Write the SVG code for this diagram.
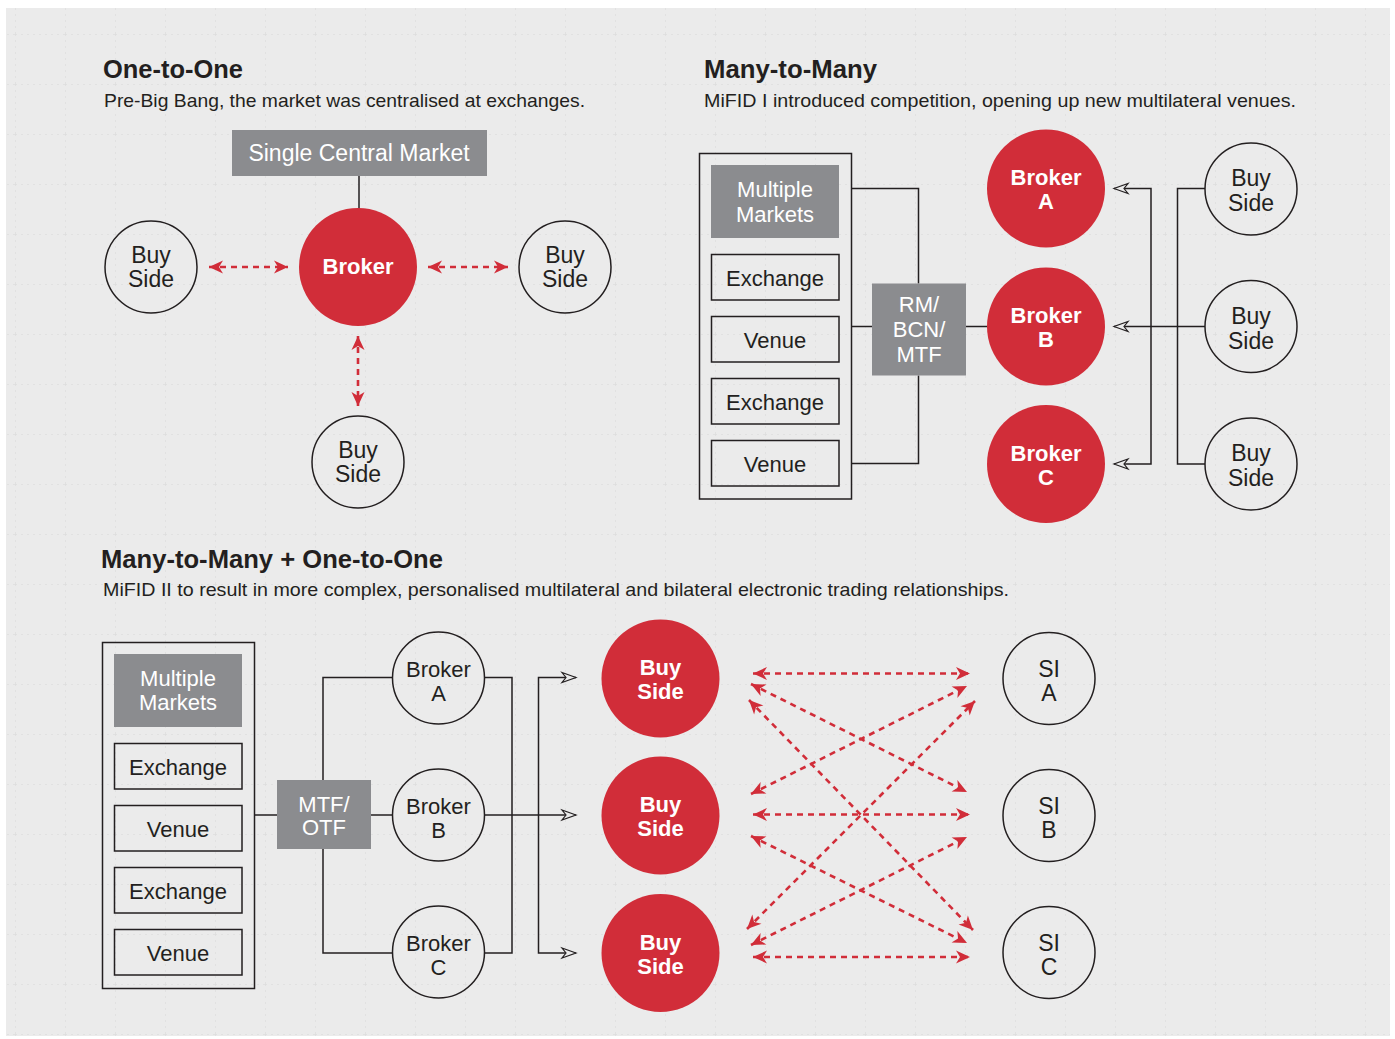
<svg xmlns="http://www.w3.org/2000/svg" width="1395" height="1039" viewBox="0 0 1395 1039">
<style>
text{font-family:"Liberation Sans",Arial,sans-serif;fill:#231f20}
.t{font-size:25px;font-weight:bold}
.s{font-size:19px}
.lbl{font-size:22px;text-anchor:middle}
.c{font-size:23px}
.w{fill:#fff}
.b{font-weight:bold}
.red{fill:#d12d39}
.gbox{fill:#8b8c8f}
.wc{fill:none;stroke:#231f20;stroke-width:1.5}
.box{fill:none;stroke:#231f20;stroke-width:1.5}
.ln{fill:none;stroke:#231f20;stroke-width:1.5}
.arw{fill:none;stroke:#231f20;stroke-width:1.5;marker-end:url(#oa)}
.arw2{fill:none;stroke:#231f20;stroke-width:1.5;marker-start:url(#oa);marker-end:url(#oa)}
.rd{fill:none;stroke:#d12d39;stroke-width:2.6;stroke-dasharray:6 5;marker-start:url(#ra);marker-end:url(#ra)}
</style>
<defs>
<marker id="ra" markerUnits="userSpaceOnUse" viewBox="-16 -8 17 16" refX="0" refY="0" markerWidth="17" markerHeight="16" orient="auto-start-reverse">
<path d="M0,0 L-14,-6.5 L-10,0 L-14,6.5 Z" fill="#d12d39"/>
</marker>
<marker id="oa" markerUnits="userSpaceOnUse" viewBox="-16 -8 18 16" refX="0" refY="0" markerWidth="18" markerHeight="16" orient="auto-start-reverse">
<path d="M0,0 L-14,-5 L-10,0 L-14,5 Z" fill="#ebebeb" stroke="#231f20" stroke-width="1.2" stroke-linejoin="miter"/>
</marker>
<pattern id="grid" patternUnits="userSpaceOnUse" x="15" y="34" width="50" height="50">
<path d="M0,0 V50 M0,0 H50" fill="none" stroke="#cfcfcf" stroke-width="1.5" stroke-dasharray="2 4"/>
</pattern>
</defs>
<rect x="0" y="0" width="1395" height="1039" fill="#ffffff"/>
<rect x="6" y="8" width="1384" height="1028" fill="#ebebeb"/>
<rect x="6" y="8" width="1384" height="1028" fill="url(#grid)" opacity="0.5"/>

<g id="titles">
<text class="t" x="103" y="78" textLength="140" lengthAdjust="spacingAndGlyphs">One-to-One</text>
<text class="s" x="104" y="107" textLength="481" lengthAdjust="spacingAndGlyphs">Pre-Big Bang, the market was centralised at exchanges.</text>
<text class="t" x="704" y="78" textLength="173" lengthAdjust="spacingAndGlyphs">Many-to-Many</text>
<text class="s" x="704" y="107" textLength="592" lengthAdjust="spacingAndGlyphs">MiFID I introduced competition, opening up new multilateral venues.</text>
<text class="t" x="101" y="568" textLength="342" lengthAdjust="spacingAndGlyphs">Many-to-Many + One-to-One</text>
<text class="s" x="103" y="596" textLength="906" lengthAdjust="spacingAndGlyphs">MiFID II to result in more complex, personalised multilateral and bilateral electronic trading relationships.</text>
</g>

<g id="connectors">
<line class="ln" x1="359" y1="176" x2="359" y2="209"/>
<line class="rd" x1="209" y1="267" x2="288" y2="267"/>
<line class="rd" x1="428" y1="267" x2="508" y2="267"/>
<line class="rd" x1="358" y1="336" x2="358" y2="406"/>
<polyline class="ln" points="851.5,188.5 918.5,188.5 918.5,283.5"/>
<line class="ln" x1="851.5" y1="326.5" x2="872" y2="326.5"/>
<polyline class="ln" points="851.5,463.5 918.5,463.5 918.5,375.5"/>
<line class="ln" x1="966" y1="326.5" x2="987" y2="326.5"/>
<path class="arw2" d="M1114,188.5 H1151 V464 H1114"/>
<path class="ln" d="M1205,188.5 H1177.5 V464 H1205"/>
<line class="arw" x1="1205" y1="326.5" x2="1114" y2="326.5"/>
<line class="ln" x1="254.5" y1="815" x2="277" y2="815"/>
<polyline class="ln" points="323,780 323,677.5 392,677.5"/>
<polyline class="ln" points="323,849 323,953 392,953"/>
<line class="ln" x1="371" y1="815" x2="392" y2="815"/>
<polyline class="ln" points="484,677.5 512,677.5 512,953 484,953"/>
<line class="arw" x1="484" y1="815" x2="576" y2="815"/>
<path class="arw2" d="M576,677.5 H538.5 V953 H576"/>
<line class="rd" x1="753" y1="673.5" x2="970" y2="673.5"/>
<line class="rd" x1="753" y1="814.5" x2="970" y2="814.5"/>
<line class="rd" x1="753" y1="957" x2="970" y2="957"/>
<line class="rd" x1="751" y1="684" x2="967" y2="792"/>
<line class="rd" x1="749" y1="700" x2="973" y2="930"/>
<line class="rd" x1="751" y1="794" x2="967" y2="686"/>
<line class="rd" x1="751" y1="836" x2="967" y2="943"/>
<line class="rd" x1="747" y1="929" x2="975" y2="701"/>
<line class="rd" x1="751" y1="945" x2="967" y2="837"/>
</g>

<g id="scm">
<rect class="gbox" x="232" y="130" width="255" height="46"/>
<text class="lbl c w" x="359" y="161">Single Central Market</text>
</g>
<g id="broker1">
<circle class="red" cx="358" cy="267" r="59"/>
<text class="lbl w b" x="358" y="274">Broker</text>
</g>
<g id="buy1-left">
<circle class="wc" cx="151" cy="267" r="46"/>
<text class="lbl c" x="151" y="263">Buy</text>
<text class="lbl c" x="151" y="287">Side</text>
</g>
<g id="buy1-right">
<circle class="wc" cx="565" cy="267" r="46"/>
<text class="lbl c" x="565" y="263">Buy</text>
<text class="lbl c" x="565" y="287">Side</text>
</g>
<g id="buy1-bottom">
<circle class="wc" cx="358" cy="462" r="46"/>
<text class="lbl c" x="358" y="458">Buy</text>
<text class="lbl c" x="358" y="482">Side</text>
</g>

<g id="mm1">
<rect class="box" x="699.5" y="153.5" width="152" height="345.5"/>
<rect class="gbox" x="711" y="165" width="128" height="73"/>
<text class="lbl w" x="775" y="197">Multiple</text>
<text class="lbl w" x="775" y="222">Markets</text>
</g>
<g id="mm1-ex1"><rect class="box" x="711.5" y="254.5" width="127.5" height="45.5"/><text class="lbl" x="775" y="286">Exchange</text></g>
<g id="mm1-ve1"><rect class="box" x="711.5" y="316.5" width="127.5" height="45.5"/><text class="lbl" x="775" y="348">Venue</text></g>
<g id="mm1-ex2"><rect class="box" x="711.5" y="378.5" width="127.5" height="45.5"/><text class="lbl" x="775" y="410">Exchange</text></g>
<g id="mm1-ve2"><rect class="box" x="711.5" y="440.5" width="127.5" height="45.5"/><text class="lbl" x="775" y="472">Venue</text></g>
<g id="rm">
<rect class="gbox" x="872" y="283.5" width="94" height="92"/>
<text class="lbl w" x="919" y="312">RM/</text>
<text class="lbl w" x="919" y="337">BCN/</text>
<text class="lbl w" x="919" y="362">MTF</text>
</g>
<g id="brokerA"><circle class="red" cx="1046" cy="188.5" r="59"/><text class="lbl w b" x="1046" y="185">Broker</text><text class="lbl w b" x="1046" y="209">A</text></g>
<g id="brokerB"><circle class="red" cx="1046" cy="326.5" r="59"/><text class="lbl w b" x="1046" y="323">Broker</text><text class="lbl w b" x="1046" y="347">B</text></g>
<g id="brokerC"><circle class="red" cx="1046" cy="464" r="59"/><text class="lbl w b" x="1046" y="461">Broker</text><text class="lbl w b" x="1046" y="485">C</text></g>
<g id="buy2-1"><circle class="wc" cx="1251" cy="189" r="46"/><text class="lbl c" x="1251" y="186">Buy</text><text class="lbl c" x="1251" y="211">Side</text></g>
<g id="buy2-2"><circle class="wc" cx="1251" cy="326.5" r="46"/><text class="lbl c" x="1251" y="324">Buy</text><text class="lbl c" x="1251" y="349">Side</text></g>
<g id="buy2-3"><circle class="wc" cx="1251" cy="464" r="46"/><text class="lbl c" x="1251" y="461">Buy</text><text class="lbl c" x="1251" y="486">Side</text></g>

<g id="mm2">
<rect class="box" x="102.5" y="642.5" width="152" height="346"/>
<rect class="gbox" x="114" y="654" width="128" height="73"/>
<text class="lbl w" x="178" y="686">Multiple</text>
<text class="lbl w" x="178" y="710">Markets</text>
</g>
<g id="mm2-ex1"><rect class="box" x="114.5" y="743.5" width="127.5" height="45.5"/><text class="lbl" x="178" y="775">Exchange</text></g>
<g id="mm2-ve1"><rect class="box" x="114.5" y="805.5" width="127.5" height="45.5"/><text class="lbl" x="178" y="837">Venue</text></g>
<g id="mm2-ex2"><rect class="box" x="114.5" y="867.5" width="127.5" height="45.5"/><text class="lbl" x="178" y="899">Exchange</text></g>
<g id="mm2-ve2"><rect class="box" x="114.5" y="929.5" width="127.5" height="45.5"/><text class="lbl" x="178" y="961">Venue</text></g>
<g id="mtf">
<rect class="gbox" x="277" y="780" width="94" height="69"/>
<text class="lbl w" x="324" y="812">MTF/</text>
<text class="lbl w" x="324" y="835">OTF</text>
</g>
<g id="b3A"><circle class="wc" cx="438.5" cy="678" r="46"/><text class="lbl" x="438.5" y="677">Broker</text><text class="lbl" x="438.5" y="701">A</text></g>
<g id="b3B"><circle class="wc" cx="438.5" cy="815" r="46"/><text class="lbl" x="438.5" y="814">Broker</text><text class="lbl" x="438.5" y="838">B</text></g>
<g id="b3C"><circle class="wc" cx="438.5" cy="952" r="46"/><text class="lbl" x="438.5" y="951">Broker</text><text class="lbl" x="438.5" y="975">C</text></g>
<g id="bs3-1"><circle class="red" cx="660.5" cy="678.5" r="59"/><text class="lbl w b" x="660.5" y="675">Buy</text><text class="lbl w b" x="660.5" y="699">Side</text></g>
<g id="bs3-2"><circle class="red" cx="660.5" cy="815.5" r="59"/><text class="lbl w b" x="660.5" y="812">Buy</text><text class="lbl w b" x="660.5" y="836">Side</text></g>
<g id="bs3-3"><circle class="red" cx="660.5" cy="953" r="59"/><text class="lbl w b" x="660.5" y="950">Buy</text><text class="lbl w b" x="660.5" y="974">Side</text></g>
<g id="siA"><circle class="wc" cx="1049" cy="678.5" r="46"/><text class="lbl c" x="1049" y="677">SI</text><text class="lbl c" x="1049" y="701">A</text></g>
<g id="siB"><circle class="wc" cx="1049" cy="815.5" r="46"/><text class="lbl c" x="1049" y="814">SI</text><text class="lbl c" x="1049" y="838">B</text></g>
<g id="siC"><circle class="wc" cx="1049" cy="952.5" r="46"/><text class="lbl c" x="1049" y="951">SI</text><text class="lbl c" x="1049" y="975">C</text></g>
</svg>
